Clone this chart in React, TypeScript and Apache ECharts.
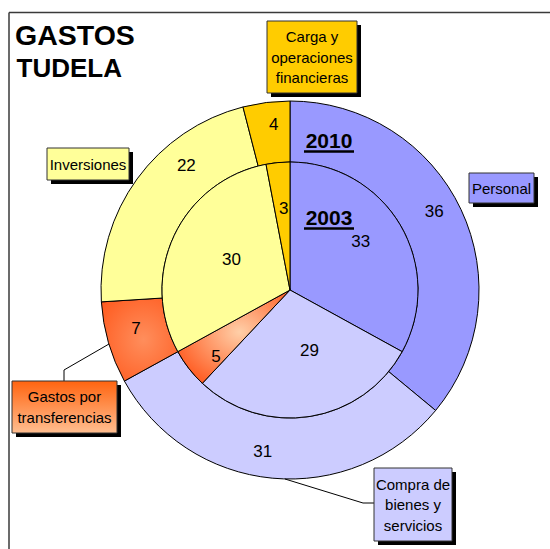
import React, { useEffect, useRef } from 'react';
import * as echarts from 'echarts';

// ---- data ----
const categories = [
  'Personal',
  'Compra de bienes y servicios',
  'Gastos por transferencias',
  'Inversiones',
  'Carga y operaciones financieras',
];
const values2010 = [36, 31, 7, 22, 4];
const values2003 = [33, 29, 5, 30, 3];
const boxLabels = [
  'Personal',
  'Compra de\nbienes y\nservicios',
  'Gastos por\ntransferencias',
  'Inversiones',
  'Carga y\noperaciones\nfinancieras',
];
const yearLabels = ['2010', '2003'];
const titleLines = ['GASTOS', 'TUDELA'];

// ---- layout / style ----
const FONT = '"Liberation Sans", Arial, sans-serif';
const CX = 290;
const CY = 290;
const R_OUT = 189;
const R_IN = 128;

const solidColors = ['#9999FF', '#CCCCFF', '', '#FFFF99', '#FFCC00'];
const outerGastos = {
  type: 'radial', x: 0.55, y: 0.5, r: 0.7,
  colorStops: [{ offset: 0, color: '#FF8E5C' }, { offset: 1, color: '#FF5A1E' }],
};
const innerGastos = {
  type: 'radial', x: 0.55, y: 0.45, r: 0.6,
  colorStops: [{ offset: 0, color: '#FFCFA8' }, { offset: 1, color: '#FF6128' }],
};
const boxGastos = {
  type: 'linear', x: 0, y: 0, x2: 0, y2: 1,
  colorStops: [{ offset: 0, color: '#FF6410' }, { offset: 1, color: '#FFBE90' }],
};

// boxes: [x, y, w, h]
const boxRects = [
  [469, 173, 65, 30],
  [374, 468, 78, 73],
  [12, 381, 105, 52],
  [47, 148, 82, 32],
  [267, 21, 90, 72],
];
const leaders: (number[][] | null)[] = [
  null,
  [[374, 503], [363, 503], [285, 479]],
  [[64, 381], [64, 370], [109, 344]],
  null,
  null,
];
const outerOffsets = [[-2, -10], [-12, 1], [1, -7], [27, -30], [4, -5]];
const innerOffsets = [[13, -14], [9, -6], [-21, 25], [2, -2], [0, -15]];
const yearPos = [[329, 140, 151.5], [329, 217.5, 228.5]];

function labelFor(off: number[]) {
  const [dx, dy] = off;
  const h = Math.max(2 * Math.abs(dy), 1);
  let formatter = '{c}';
  if (dy < 0) formatter = '{c}\n{s| }';
  else if (dy > 0) formatter = '{s| }\n{c}';
  return {
    formatter,
    rich: { s: { lineHeight: h, fontSize: 1, height: h } },
    padding: [0, dx < 0 ? -2 * dx : 0, 0, dx > 0 ? 2 * dx : 0],
  };
}

function sliceData(values: number[], offsets: number[][], gastos: any) {
  return values.map((v, i) => ({
    name: categories[i],
    value: v,
    itemStyle: { color: i === 2 ? gastos : solidColors[i] },
    label: labelFor(offsets[i]),
  }));
}

export default function App() {
  const ref = useRef<HTMLDivElement>(null);

  useEffect(() => {
    if (!ref.current) return;
    const chart = echarts.init(ref.current, undefined, { renderer: 'svg' });

    const graphics: any[] = [];
    // frame
    graphics.push({ type: 'line', shape: { x1: 9, y1: 12.5, x2: 560, y2: 12.5 }, style: { stroke: '#3a3a3a', lineWidth: 1.5 } });
    graphics.push({ type: 'line', shape: { x1: 9, y1: 12.5, x2: 9, y2: 560 }, style: { stroke: '#3a3a3a', lineWidth: 1.5 } });
    // title
    graphics.push({ type: 'text', style: { text: titleLines[0], x: 15, y: 34.5, font: `bold 28.5px ${FONT}`, fill: '#000', textVerticalAlign: 'middle' } });
    graphics.push({ type: 'text', style: { text: titleLines[1], x: 16.5, y: 67.7, font: `bold 26px ${FONT}`, fill: '#000', textVerticalAlign: 'middle' } });
    // year labels
    yearLabels.forEach((t, i) => {
      const [x, y, uy] = yearPos[i];
      graphics.push({ type: 'text', z: 10, style: { text: t, x, y, font: `bold 21px ${FONT}`, fill: '#000', textAlign: 'center', textVerticalAlign: 'middle' } });
      graphics.push({ type: 'rect', z: 10, shape: { x: x - 25, y: uy - 1.2, width: 50, height: 2.4 }, style: { fill: '#000' } });
    });
    // leader lines
    leaders.forEach((pts) => {
      if (pts) graphics.push({ type: 'polyline', z: 5, shape: { points: pts }, style: { stroke: '#000', lineWidth: 1, fill: 'none' } });
    });
    // boxes
    boxRects.forEach((b, i) => {
      const [x, y, w, h] = b;
      graphics.push({ type: 'rect', z: 6, shape: { x: x + 4, y: y + 4, width: w, height: h }, style: { fill: '#000' } });
      graphics.push({ type: 'rect', z: 7, shape: { x, y, width: w, height: h }, style: { fill: i === 2 ? boxGastos : solidColors[i], stroke: '#333', lineWidth: 1 } });
      graphics.push({
        type: 'text', z: 8,
        style: { text: boxLabels[i], x: x + w / 2, y: y + h / 2, font: `15px ${FONT}`, fill: '#000', textAlign: 'center', textVerticalAlign: 'middle', lineHeight: 20.5 },
      });
    });

    const labelCfg = { show: true, position: 'inside', fontSize: 17, fontFamily: FONT, color: '#000' };

    chart.setOption({
      animation: false,
      backgroundColor: '#fff',
      series: [
        {
          type: 'pie',
          name: '2010',
          center: [CX, CY],
          radius: [R_IN, R_OUT],
          startAngle: 90,
          clockwise: true,
          silent: true,
          label: labelCfg,
          labelLine: { show: false },
          itemStyle: { borderColor: '#000', borderWidth: 1 },
          data: sliceData(values2010, outerOffsets, outerGastos),
        },
        {
          type: 'pie',
          name: '2003',
          center: [CX, CY],
          radius: [0, R_IN],
          startAngle: 90,
          clockwise: true,
          silent: true,
          label: labelCfg,
          labelLine: { show: false },
          itemStyle: { borderColor: '#000', borderWidth: 1 },
          data: sliceData(values2003, innerOffsets, innerGastos),
        },
      ],
      graphic: graphics,
    });

    return () => chart.dispose();
  }, []);

  return <div ref={ref} style={{ position: 'absolute', left: 0, top: 0, width: 550, height: 549 }} />;
}
